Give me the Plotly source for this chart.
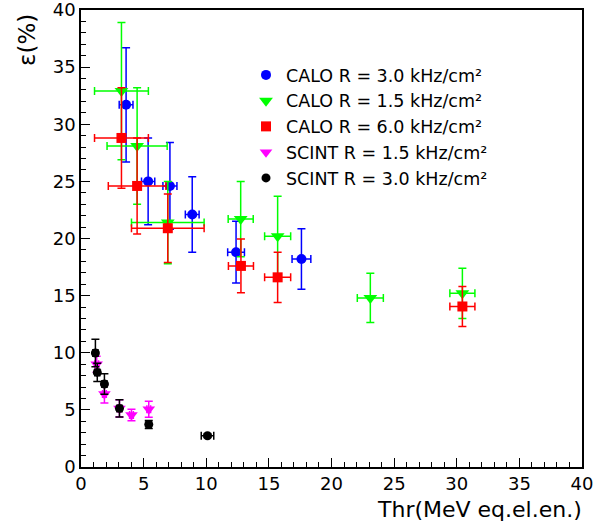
import plotly.graph_objects as go

# CALO R = 3.0 kHz/cm2
calo30_x = [3.6, 5.36, 7.1, 8.88, 12.38, 17.6]
calo30_y = [31.7, 25.0, 24.6, 22.1, 18.8, 18.2]
calo30_ex = [0.55, 0.53, 0.56, 0.55, 0.67, 0.75]
calo30_ey = [5.0, 3.8, 3.8, 3.3, 2.7, 2.65]

# CALO R = 1.5 kHz/cm2
calo15_x = [3.23, 4.48, 6.93, 12.75, 15.7, 23.1, 30.45]
calo15_y = [32.9, 28.1, 21.4, 21.7, 20.2, 14.8, 15.2]
calo15_ex = [2.15, 2.4, 2.9, 1.0, 1.04, 1.04, 1.0]
calo15_ey = [6.0, 5.1, 3.6, 3.3, 3.5, 2.15, 2.2]

# CALO R = 6.0 kHz/cm2
calo60_x = [3.23, 4.48, 6.93, 12.77, 15.7, 30.45]
calo60_y = [28.8, 24.6, 20.9, 17.6, 16.6, 14.05]
calo60_ex = [2.15, 2.3, 2.9, 1.0, 1.04, 1.0]
calo60_ey = [4.4, 4.2, 3.0, 2.35, 2.2, 1.75]

# SCINT R = 1.5 kHz/cm2
scint15_x = [1.25, 1.87, 3.07, 4.03, 5.41]
scint15_y = [9.0, 6.4, 5.13, 4.55, 5.05]
scint15_ex = [0.15, 0.15, 0.15, 0.15, 0.15]
scint15_ey = [0.7, 0.8, 0.75, 0.5, 0.7]

# SCINT R = 3.0 kHz/cm2
scint30_x = [1.15, 1.3, 1.87, 3.07, 5.41, 10.1]
scint30_y = [9.98, 8.28, 7.26, 5.13, 3.73, 2.74]
scint30_ex = [0.2, 0.2, 0.2, 0.2, 0.2, 0.5]
scint30_ey = [1.2, 0.8, 0.9, 0.75, 0.35, 0.15]

FONT = "DejaVu Sans, Arial, sans-serif"

series = [
    ("CALO R = 3.0 kHz/cm²", calo30_x, calo30_y, calo30_ex, calo30_ey, "#0000ff", "circle", 10),
    ("CALO R = 1.5 kHz/cm²", calo15_x, calo15_y, calo15_ex, calo15_ey, "#00ff00", "triangle-down", 12),
    ("CALO R = 6.0 kHz/cm²", calo60_x, calo60_y, calo60_ex, calo60_ey, "#ff0000", "square", 10),
    ("SCINT R = 1.5 kHz/cm²", scint15_x, scint15_y, scint15_ex, scint15_ey, "#ff00ff", "triangle-down", 11),
    ("SCINT R = 3.0 kHz/cm²", scint30_x, scint30_y, scint30_ex, scint30_ey, "#000000", "circle", 9),
]

fig = go.Figure()
for name, x, y, ex, ey, color, symbol, size in series:
    fig.add_trace(go.Scatter(
        x=x, y=y, mode="markers", name=name,
        marker=dict(color=color, symbol=symbol, size=size),
        error_x=dict(type="data", array=ex, color=color, thickness=1.5, width=4),
        error_y=dict(type="data", array=ey, color=color, thickness=1.5, width=4),
    ))

axis_common = dict(
    showline=True, linecolor="black", linewidth=1.5, mirror=True,
    ticks="inside", ticklen=9, tickwidth=1, tickcolor="black",
    showgrid=False, zeroline=False, automargin=False,
    ticklabeloverflow="allow",
    tickfont=dict(family=FONT, size=18, color="black"),
)

W, H = 611, 527
L, R, T, B = 81, 29, 10, 60
PW, PH = W - L - R, H - T - B

fig.update_layout(
    width=W, height=H,
    margin=dict(l=L, r=R, t=T, b=B, autoexpand=False),
    plot_bgcolor="white", paper_bgcolor="white",
    xaxis=dict(range=[0, 40], dtick=5,
               minor=dict(dtick=1, ticks="inside", ticklen=5, tickcolor="black"),
               **axis_common),
    yaxis=dict(range=[0, 40], dtick=5,
               minor=dict(dtick=1, ticks="inside", ticklen=5, tickcolor="black"),
               **axis_common),
    legend=dict(x=165 / PW, y=1 - 47 / PH, xanchor="left", yanchor="top",
                bgcolor="rgba(0,0,0,0)", font=dict(family=FONT, size=17.5, color="black"),
                tracegroupgap=0),
    annotations=[
        dict(text="Thr(MeV eq.el.en.)", xref="paper", yref="paper",
             x=1 + 2 / PW, y=-28 / PH, xanchor="right", yanchor="top", showarrow=False,
             font=dict(family=FONT, size=22, color="black")),
        dict(text="ε(%)", xref="paper", yref="paper", textangle=-90,
             x=-54 / PW, y=1 - 30 / PH, xanchor="center", yanchor="middle", showarrow=False,
             font=dict(family=FONT, size=23, color="black")),
    ],
)

# drop the page's default body margin so the figure fills the window
fig.write_html("out.html", config={"displayModeBar": False},
               post_script="document.body.style.margin='0px';")
